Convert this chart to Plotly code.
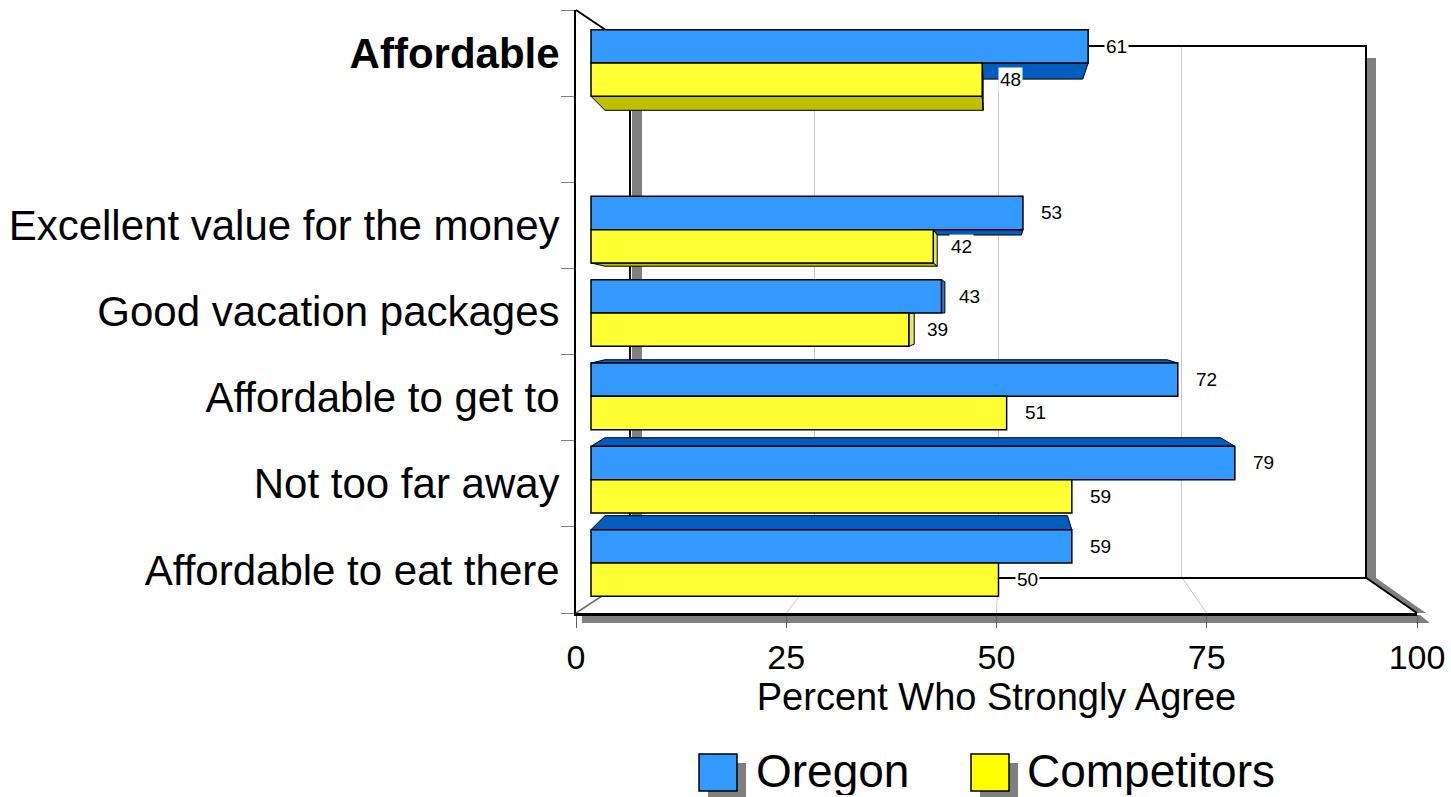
import plotly.graph_objects as go

# ---- data -------------------------------------------------------------
categories = ["Affordable", "Excellent value for the money", "Good vacation packages",
              "Affordable to get to", "Not too far away", "Affordable to eat there"]
row_slots = [0, 2, 3, 4, 5, 6]          # row 1 is left empty under the summary row
oregon = [61, 53, 43, 72, 79, 59]
competitors = [48, 42, 39, 51, 59, 50]
series_names = ["Oregon", "Competitors"]
x_ticks = [0, 25, 50, 75, 100]
x_title = "Percent Who Strongly Agree"

# ---- canvas / box geometry (pixels) ----------------------------------
W, H = 1451, 797
FRONT_X0, FRONT_X1, FRONT_TOP, FRONT_BOT = 576, 1417, 10, 613
BACK_X0, BACK_X1, BACK_TOP, BACK_BOT = 631, 1365, 47, 577
BAR_X0, BAR_SCALE = 591, 8.15           # bar plane: value 0 position, px per unit
SLOT0_Y, SLOT_H = 63, 83.33             # bar plane: first row centre, px per row
N_SLOTS = 7


def px(x):
    return x / W


def py(y):
    return 1 - y / H


def front_x(v):
    return FRONT_X0 + v * (FRONT_X1 - FRONT_X0) / 100


def back_x(v):
    return BACK_X0 + v * (BACK_X1 - BACK_X0) / 100


# colours
OR_FRONT, OR_TOP, OR_SIDE = "#3399FF", "#005CBF", "#2A78D6"
CO_FRONT, CO_TOP, CO_SIDE = "#FFFF33", "#BFBF00", "#E6E673"
SHADOW = "#808080"
GRID = "#C8C8C8"
LABEL_FONT = "Liberation Sans Narrow, Arial Narrow, Liberation Sans, Arial, sans-serif"
TEXT_FONT = "Liberation Sans, Arial, sans-serif"

HALF = 0.2   # offset of each series bar from the row centre
BAR_W = 0.4

oregon_y = [s - HALF for s in row_slots]
comp_y = [s + HALF for s in row_slots]

fig = go.Figure()

# back wall (first subplot, drawn underneath the bars)
fig.add_trace(go.Scatter(x=[None], y=[None], xaxis="x", yaxis="y",
                         showlegend=False, hoverinfo="skip"))

# bars (second subplot covering the whole canvas)
fig.add_trace(go.Bar(x=oregon, y=oregon_y, orientation="h", width=BAR_W,
                     name=series_names[0], xaxis="x2", yaxis="y2",
                     marker=dict(color=OR_FRONT, line=dict(color="black", width=1.5)),
                     showlegend=False, hoverinfo="x"))
fig.add_trace(go.Bar(x=competitors, y=comp_y, orientation="h", width=BAR_W,
                     name=series_names[1], xaxis="x2", yaxis="y2",
                     marker=dict(color=CO_FRONT, line=dict(color="black", width=1.5)),
                     showlegend=False, hoverinfo="x"))

# front axes (third subplot)
fig.add_trace(go.Scatter(x=[None], y=[None], xaxis="x3", yaxis="y3",
                         showlegend=False, hoverinfo="skip"))

shapes = []
annotations = []

# ---- depth faces of the bars -------------------------------------------
K_Y, EYE_SLOT = 0.0645, 3.0
K_X, EYE_V = 0.06, 50.0
LEFT_SHIFT = 14 / BAR_SCALE


def face(points, color):
    path = "M " + " L ".join(f"{x:.4f},{y:.4f}" for x, y in points) + " Z"
    return dict(type="path", path=path, xref="x2", yref="y2", layer="below",
                fillcolor=color, line=dict(color="black", width=1))


for values, ys, top_c, side_c in ((oregon, oregon_y, OR_TOP, OR_SIDE),
                                  (competitors, comp_y, CO_TOP, CO_SIDE)):
    for v, c in zip(values, ys):
        top, bot = c - BAR_W / 2, c + BAR_W / 2
        dyt = K_Y * (EYE_SLOT - top)
        dyb = K_Y * (EYE_SLOT - bot)
        dxr = K_X * (EYE_V - v)
        if top > EYE_SLOT:
            shapes.append(face([(0, top), (v, top), (v + dxr, top + dyt),
                                (LEFT_SHIFT, top + dyt)], top_c))
        if bot < EYE_SLOT:
            shapes.append(face([(0, bot), (v, bot), (v + dxr, bot + dyb),
                                (LEFT_SHIFT, bot + dyb)], top_c))
        if dxr > 0:
            shapes.append(face([(v, top), (v + dxr, top + dyt),
                                (v + dxr, bot + dyb), (v, bot)], side_c))

# ---- box decoration (paper shapes under everything) -----------------


def pline(x0, y0, x1, y1, color, width):
    return dict(type="line", xref="paper", yref="paper", layer="below",
                x0=px(x0), y0=py(y0), x1=px(x1), y1=py(y1),
                line=dict(color=color, width=width))


def ppoly(points, color):
    path = "M " + " L ".join(f"{px(x):.5f},{py(y):.5f}" for x, y in points) + " Z"
    return dict(type="path", path=path, xref="paper", yref="paper", layer="below",
                fillcolor=color, line=dict(width=0))


# shadows
shapes.append(ppoly([(1366, 58), (1376, 58), (1376, 578), (1366, 578)], SHADOW))
shapes.append(ppoly([(1366, 578), (1376, 578), (1426, 613), (1416, 613)], SHADOW))
shapes.append(ppoly([(582, 615), (1420, 615), (1430, 623), (582, 623)], SHADOW))
shapes.append(ppoly([(632, 50), (642, 50), (642, 590), (632, 590)], SHADOW))

# floor grid lines running from the back wall to the front edge
for v in x_ticks[1:-1]:
    shapes.append(pline(back_x(v), BACK_BOT, front_x(v), FRONT_BOT, GRID, 1))

# box edges
shapes.append(pline(FRONT_X0, FRONT_TOP, BACK_X0, BACK_TOP, "black", 2))
shapes.append(pline(FRONT_X0, FRONT_BOT, BACK_X0, BACK_BOT, "#707070", 1.5))
shapes.append(pline(BACK_X1, BACK_BOT, FRONT_X1, FRONT_BOT, "black", 2))

# ---- value labels ---------------------------------------------------
for values, ys in ((oregon, oregon_y), (competitors, comp_y)):
    for v, c in zip(values, ys):
        annotations.append(dict(x=v, y=c, xref="x2", yref="y2", text=str(v),
                                showarrow=False, xanchor="left", xshift=16,
                                font=dict(family=TEXT_FONT, size=19, color="black"),
                                bgcolor="white", borderpad=1))

# ---- legend ---------------------------------------------------------
legend_items = [(series_names[0], OR_FRONT, 699, 755),
                (series_names[1], "#FFFF00", 971, 1026)]
for name, color, sx, tx in legend_items:
    shapes.append(dict(type="rect", xref="paper", yref="paper", layer="above",
                       x0=px(sx + 9), x1=px(sx + 47), y0=py(763), y1=py(797),
                       fillcolor=SHADOW, line=dict(width=0)))
    shapes.append(dict(type="rect", xref="paper", yref="paper", layer="above",
                       x0=px(sx), x1=px(sx + 38), y0=py(754), y1=py(791),
                       fillcolor=color, line=dict(color="black", width=1.5)))
    annotations.append(dict(x=px(tx), y=py(771), xref="paper", yref="paper",
                            text=name, showarrow=False, xanchor="left", yanchor="middle",
                            height=48, valign="middle", borderpad=0,
                            font=dict(family=TEXT_FONT, size=46, color="black")))

fig.update_layout(
    width=W, height=H, autosize=False,
    margin=dict(l=0, r=0, t=0, b=0, autoexpand=False),
    paper_bgcolor="white", plot_bgcolor="rgba(0,0,0,0)",
    barmode="overlay", showlegend=False,
    shapes=shapes, annotations=annotations,
    # back wall
    xaxis=dict(domain=[px(BACK_X0), px(BACK_X1)], range=[0, 100], anchor="y",
               tickvals=x_ticks[1:-1], showticklabels=False, ticks="",
               showgrid=True, gridcolor=GRID, gridwidth=1, zeroline=False,
               showline=True, linecolor="black", linewidth=2, mirror=True,
               fixedrange=True),
    yaxis=dict(domain=[py(BACK_BOT), py(BACK_TOP)], range=[0, 1], anchor="x",
               showticklabels=False, ticks="", showgrid=False, zeroline=False,
               showline=True, linecolor="black", linewidth=2, mirror=True,
               fixedrange=True),
    # bar plane
    xaxis2=dict(domain=[0, 1], anchor="y2",
                range=[-BAR_X0 / BAR_SCALE, (W - BAR_X0) / BAR_SCALE],
                visible=False, fixedrange=True),
    yaxis2=dict(domain=[0, 1], anchor="x2",
                range=[(H - SLOT0_Y) / SLOT_H, -SLOT0_Y / SLOT_H],
                visible=False, fixedrange=True),
    # front axes
    xaxis3=dict(domain=[px(FRONT_X0), px(FRONT_X1)], range=[0, 100], anchor="y3",
                tickvals=x_ticks, ticktext=[str(t) for t in x_ticks],
                ticks="outside", ticklen=12, tickcolor="#606060", tickwidth=1,
                tickfont=dict(family=TEXT_FONT, size=34, color="black"),
                showgrid=False, zeroline=False, automargin=False,
                showline=True, linecolor="black", linewidth=3,
                title=dict(text=x_title, standoff=2,
                           font=dict(family=TEXT_FONT, size=38, color="black")),
                fixedrange=True),
    yaxis3=dict(domain=[py(FRONT_BOT), py(FRONT_TOP)], range=[N_SLOTS, 0], anchor="x3",
                tickvals=[s + 0.5 for s in row_slots],
                ticktext=["<b>" + categories[0] + "</b>"] + categories[1:],
                ticks="", ticklabelstandoff=6, automargin=False,
                tickfont=dict(family=LABEL_FONT, size=42, color="black"),
                minor=dict(tickvals=list(range(N_SLOTS + 1)), ticks="outside",
                           ticklen=13, tickcolor="#808080", tickwidth=1),
                showgrid=False, zeroline=False,
                showline=True, linecolor="black", linewidth=2,
                fixedrange=True),
)

fig.write_html("out.html")
